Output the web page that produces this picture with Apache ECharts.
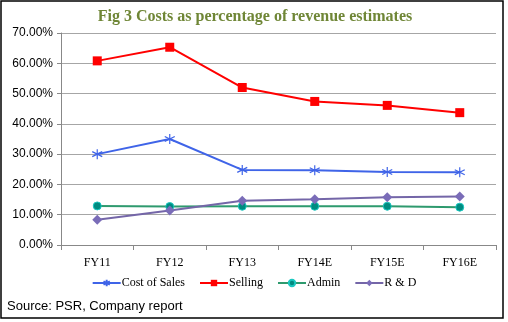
<!DOCTYPE html>
<html><head><meta charset="utf-8">
<script src="https://cdn.jsdelivr.net/npm/echarts@6/dist/echarts.min.js"></script>
<style>html,body{margin:0;padding:0;background:#fff}#c{width:508px;height:322px}</style>
</head><body><div id="c"></div>
<script>
var categories = ['FY11','FY12','FY13','FY14E','FY15E','FY16E'];
var costOfSales = [30.0, 35.0, 24.8, 24.7, 24.1, 24.0];
var selling = [60.8, 65.3, 52.0, 47.4, 46.1, 43.7];
var admin = [12.9, 12.7, 12.8, 12.8, 12.8, 12.5];
var rnd = [8.3, 11.4, 14.6, 15.1, 15.8, 16.0];
var yTicks = [0, 10, 20, 30, 40, 50, 60, 70];

var chart = echarts.init(document.getElementById('c'));
var asterisk = 'path://M0,-5L0,5M-4.3,-2.5L4.3,2.5M-4.3,2.5L4.3,-2.5';
chart.setOption({
  animation: false,
  title: {
    text: 'Fig 3 Costs as percentage of revenue estimates',
    left: 250, top: 4, textAlign: 'center',
    textStyle: {fontFamily: 'Liberation Serif, Times New Roman, serif', fontWeight: 'bold', fontSize: 16, color: '#6f8636'}
  },
  graphic: [
    {type: 'rect', shape: {x: 1, y: 1, width: 502, height: 317}, style: {fill: 'none', stroke: '#000', lineWidth: 1.5}, silent: true},
    {type: 'text', left: 7, top: 300, style: {text: 'Source: PSR, Company report', font: '13px "Liberation Sans", Arial, sans-serif', fill: '#000'}}
  ],
  legend: {
    bottom: 28, left: 'center',
    itemWidth: 28, itemHeight: 8, itemGap: 14,
    textStyle: {fontFamily: 'Liberation Serif, Times New Roman, serif', fontSize: 12, color: '#000', padding: [0,0,0,-4]},
    data: ['Cost of Sales', 'Selling', 'Admin', 'R & D']
  },
  grid: {left: 61, right: 12, top: 33, bottom: 77},
  xAxis: {
    type: 'category', data: categories, boundaryGap: true,
    axisLine: {lineStyle: {color: '#888'}},
    axisTick: {show: true, length: 5, lineStyle: {color: '#888'}},
    axisLabel: {margin: 12, fontFamily: 'Liberation Serif, Times New Roman, serif', fontSize: 12, color: '#000'}
  },
  yAxis: {
    type: 'value', min: yTicks[0], max: yTicks[yTicks.length-1], interval: 10,
    axisLine: {show: true, lineStyle: {color: '#888'}},
    axisTick: {show: true, length: 4, lineStyle: {color: '#888'}},
    splitLine: {lineStyle: {color: '#a6a6a6', width: 1}},
    axisLabel: {margin: 8, fontFamily: 'Liberation Sans, Arial, sans-serif', fontSize: 12, color: '#000',
      formatter: function(v){ return v.toFixed(2) + '%'; }}
  },
  series: [
    {name: 'Cost of Sales', type: 'line', data: costOfSales, symbol: asterisk, symbolSize: [10, 10],
      lineStyle: {color: '#3f64e8', width: 2}, itemStyle: {color: '#3f64e8', borderColor: '#3f64e8', borderWidth: 1.2}},
    {name: 'Selling', type: 'line', data: selling, symbol: 'rect', symbolSize: 9,
      lineStyle: {color: '#ff0000', width: 2}, itemStyle: {color: '#ff0000'}},
    {name: 'Admin', type: 'line', data: admin, symbol: 'circle', symbolSize: 8,
      lineStyle: {color: '#2e9a6e', width: 2}, itemStyle: {color: '#008b80', borderColor: '#1ac8c0', borderWidth: 1}},
    {name: 'R & D', type: 'line', data: rnd, symbol: 'diamond', symbolSize: 10,
      lineStyle: {color: '#7466a8', width: 2}, itemStyle: {color: '#7a6cb8'}}
  ]
});
</script></body></html>
